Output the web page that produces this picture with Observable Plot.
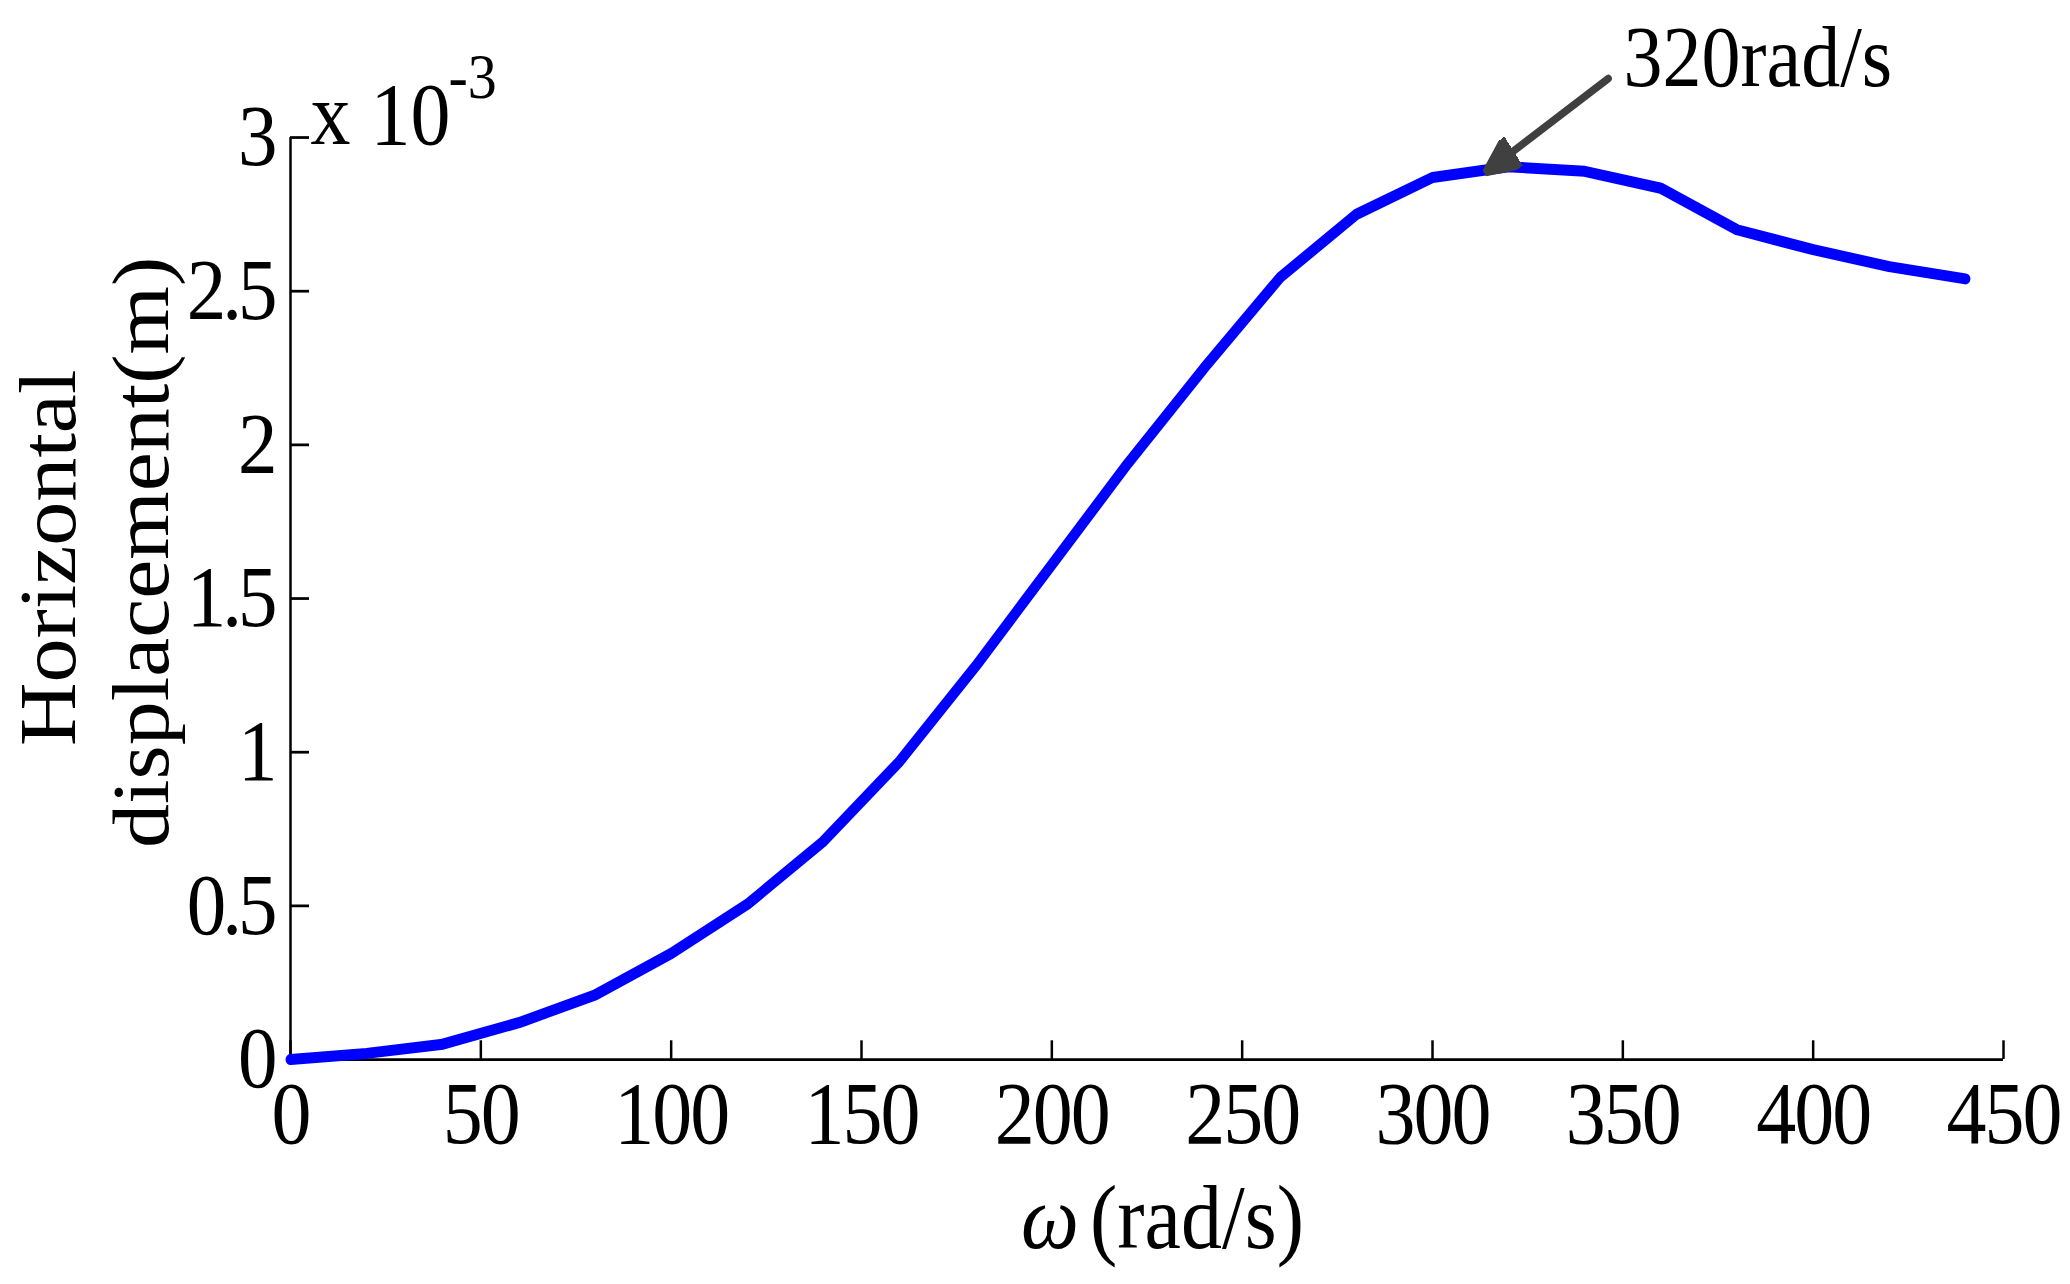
<!DOCTYPE html>
<html>
<head>
<meta charset="utf-8">
<script src="https://cdn.jsdelivr.net/npm/d3@7"></script>
<script src="https://cdn.jsdelivr.net/npm/@observablehq/plot@0.6"></script>
<style>
  html, body { margin: 0; padding: 0; background: #fff; overflow: hidden; }
  #chart svg { display: block; }
  #chart g[aria-label="y-axis tick label"] text { letter-spacing: -4px; }
  #chart g[aria-label="x-axis tick label"] text { letter-spacing: -2px; }
</style>
</head>
<body>
<div id="chart"></div>
<script>
// ---- data ----
const omega = [0, 20, 40, 60, 80, 100, 120, 140, 160, 180, 200, 220, 240, 260, 280, 300, 320, 340, 360, 380, 400, 420, 440];
// horizontal displacement in units of 1e-3 m
const displacement = [0, 0.02, 0.05, 0.12, 0.21, 0.345, 0.505, 0.71, 0.97, 1.28, 1.61, 1.94, 2.25, 2.545, 2.75, 2.87, 2.905, 2.89, 2.835, 2.70, 2.635, 2.58, 2.54];
const xTicks = [0, 50, 100, 150, 200, 250, 300, 350, 400, 450];
const yTicks = [0, 0.5, 1, 1.5, 2, 2.5, 3];
const xLabelSymbol = "ω";
const xLabelUnit = "(rad/s)";
const yLabelLines = ["Horizontal", "displacement(m)"];
const multiplierBase = "x 10";
const multiplierExp = "-3";
const annotationText = ["320rad/s"];
const annotationTextPos = [{x: 350.2, y: 3.169}];
const annotationArrow = [{x1: 346.2, y1: 3.192, x2: 316.1, y2: 2.907}];

const rows = omega.map((w, i) => ({w, d: displacement[i]}));

const W = 2070, H = 1284, STRETCH = 1.1003;
const HPRE = Math.round(H / STRETCH);
const FONT = "'Liberation Serif', 'Times New Roman', serif";

function filledArrow(color, context) {
  const doc = (context && context.document) || document;
  const ns = "http://www.w3.org/2000/svg";
  const m = doc.createElementNS(ns, "marker");
  m.setAttribute("viewBox", "-24 -16 36 32");
  m.setAttribute("markerWidth", 36);
  m.setAttribute("markerHeight", 32);
  m.setAttribute("markerUnits", "userSpaceOnUse");
  m.setAttribute("refX", 0);
  m.setAttribute("refY", 0);
  m.setAttribute("orient", "auto");
  const p = doc.createElementNS(ns, "path");
  p.setAttribute("d", "M10,0L-23,-15L-23,15Z");
  p.setAttribute("fill", color);
  m.appendChild(p);
  return m;
}

const plot = Plot.plot({
  width: W,
  height: HPRE,
  marginLeft: 290,
  marginRight: 67,
  marginTop: 124.5,
  marginBottom: HPRE - 962.5,
  style: {fontFamily: FONT, fontSize: "80px", color: "#000", background: "#fff"},
  x: {domain: [0, 450]},
  y: {domain: [0, 3]},
  marks: [
    // inward tick marks
    Plot.axisX({ticks: xTicks, tickSize: 17, dy: -17, tickFormat: () => "", strokeWidth: 2.5, label: null}),
    Plot.axisY({ticks: yTicks, tickSize: 19, dx: 19, tickFormat: () => "", strokeWidth: 2.5, label: null}),
    // tick labels
    Plot.axisX({ticks: xTicks, tickSize: 0, tickPadding: 19, tickFormat: d => String(d), fontSize: 80, label: null}),
    Plot.axisY({ticks: yTicks, tickSize: 0, tickPadding: 17, tickFormat: d => String(d), fontSize: 79, label: null}),
    // axis lines
    Plot.ruleX([0], {stroke: "#000", strokeWidth: 2.5}),
    Plot.ruleY([0], {stroke: "#000", strokeWidth: 2.5}),
    // data line
    Plot.line(rows, {x: "w", y: "d", stroke: "#0000ff", strokeWidth: 10, strokeLinecap: "round", strokeLinejoin: "round"}),
    // annotation arrow + text
    Plot.link(annotationArrow, {x1: "x1", y1: "y1", x2: "x2", y2: "y2", stroke: "#404040", strokeWidth: 7, strokeLinecap: "round", markerEnd: filledArrow}),
    Plot.text(annotationText, {x: (d, i) => annotationTextPos[i].x, y: (d, i) => annotationTextPos[i].y, text: d => d, textAnchor: "start", lineAnchor: "bottom", fontSize: 78, fill: "#000"}),
    // x label
    Plot.text([xLabelSymbol], {frameAnchor: "bottom", text: d => d, textAnchor: "end", lineAnchor: "bottom", dx: -68, dy: 171, fontSize: 82, fontStyle: "italic", fill: "#000"}),
    Plot.text([xLabelUnit], {frameAnchor: "bottom", text: d => d, textAnchor: "start", lineAnchor: "bottom", dx: -57, dy: 171, fontSize: 82, fill: "#000"}),
    // y label (two lines)
    Plot.text([yLabelLines[0]], {frameAnchor: "left", text: d => d, rotate: -90, textAnchor: "middle", lineAnchor: "bottom", dx: -216, dy: -37, fontSize: 80, fill: "#000"}),
    Plot.text([yLabelLines[1]], {frameAnchor: "left", text: d => d, rotate: -90, textAnchor: "middle", lineAnchor: "bottom", dx: -123, dy: -42, fontSize: 80, fill: "#000"}),
    // exponent multiplier
    Plot.text([multiplierBase], {frameAnchor: "top-left", text: d => d, textAnchor: "start", lineAnchor: "bottom", dx: 20, dy: 5.5, fontSize: 80, fill: "#000"}),
    Plot.text([multiplierExp], {frameAnchor: "top-left", text: d => d, textAnchor: "start", lineAnchor: "bottom", dx: 158, dy: -35.5, fontSize: 58, fill: "#000"})
  ]
});

// stretch vertically like the reference figure
plot.setAttribute("preserveAspectRatio", "none");
plot.setAttribute("width", W);
plot.setAttribute("height", H);
plot.style.width = W + "px";
plot.style.height = H + "px";
plot.style.maxWidth = "none";
document.getElementById("chart").appendChild(plot);
</script>
</body>
</html>
